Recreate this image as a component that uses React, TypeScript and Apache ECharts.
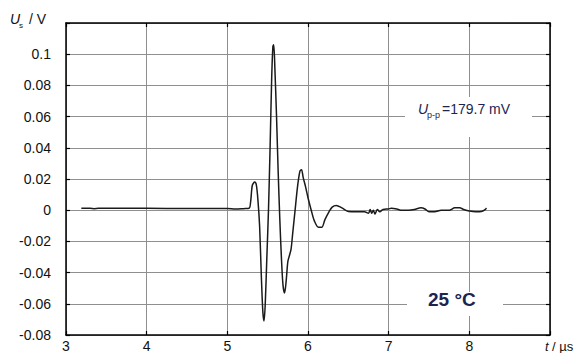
import React, { useEffect, useRef } from "react";
import * as echarts from "echarts";

const timeUs: number[] = [
  3.19, 3.25, 3.3, 3.35, 3.4, 3.6, 4.0, 4.5, 5.0, 5.1, 5.2, 5.27, 5.29, 5.31, 5.34, 5.36, 5.38, 5.4,
  5.42, 5.44, 5.455, 5.47, 5.49, 5.51, 5.53, 5.55, 5.565, 5.575, 5.59, 5.61, 5.63, 5.65, 5.67, 5.69,
  5.71, 5.73, 5.75, 5.77, 5.79, 5.81, 5.84, 5.87, 5.9, 5.92, 5.94, 5.97, 6.0, 6.04, 6.08, 6.13, 6.17,
  6.21, 6.26, 6.3, 6.35, 6.42, 6.5, 6.6, 6.7, 6.75, 6.77, 6.79, 6.81, 6.83, 6.86, 6.89, 6.93, 7.0,
  7.03, 7.1, 7.15, 7.25, 7.32, 7.4, 7.45, 7.5, 7.57, 7.65, 7.75, 7.82, 7.88, 7.93, 8.0, 8.08, 8.15,
  8.2, 8.21,
];
const voltageV: number[] = [
  0.0013, 0.0012, 0.0012, 0.001, 0.0012, 0.0012, 0.0012, 0.0011, 0.0011, 0.0008, 0.001, 0.0012, 0.006,
  0.016, 0.018, 0.016, 0.006, -0.01, -0.04, -0.065, -0.071, -0.06, -0.03, 0.0, 0.04, 0.085, 0.105,
  0.106, 0.09, 0.06, 0.025, -0.005, -0.03, -0.048, -0.053, -0.045, -0.033, -0.029, -0.025, -0.015,
  0.0, 0.015, 0.025, 0.026, 0.021, 0.015, 0.008, 0.0, -0.007, -0.011, -0.011, -0.006, -0.001, 0.002,
  0.003, 0.0015, -0.0008, -0.001, -0.001, -0.002, 0.0005, -0.002, 0.0, -0.0025, 0.0005, -0.001,
  0.0005, 0.0008, 0.0012, 0.0008, 0.0, 0.0, 0.0005, 0.0015, 0.0008, -0.001, -0.001, 0.0, 0.0, 0.0015,
  0.0015, 0.0005, -0.0005, -0.001, -0.0008, 0.0005, 0.0015,
];
const xTicks = { min: 3, max: 9, step: 1 };
const yTicks = { min: -0.08, max: 0.12, step: 0.02 };

const FONT = "'Liberation Sans', Arial, sans-serif";
const NAVY = "#1b2650";

export default function App() {
  const ref = useRef<HTMLDivElement>(null);
  useEffect(() => {
    if (!ref.current) return;
    const chart = echarts.init(ref.current, undefined, { renderer: "svg" });
    const data = timeUs.map((t, i) => [t, voltageV[i]]);
    const gridLine = { show: true, lineStyle: { color: "#8f8f8f", width: 1 } };
    const tickStyle = { show: true, inside: true, length: 4, lineStyle: { color: "#000", width: 1.2 } };
    const axisLine = { show: true, onZero: false, lineStyle: { color: "#000", width: 1.5 } };
    chart.setOption({
      animation: false,
      backgroundColor: "#fff",
      grid: { left: 66, right: 30, top: 23, bottom: 16 },
      xAxis: [
        {
          type: "value",
          min: xTicks.min,
          max: xTicks.max,
          interval: xTicks.step,
          axisLine,
          axisTick: tickStyle,
          splitLine: gridLine,
          axisLabel: {
            color: "#111",
            fontFamily: FONT,
            fontSize: 14,
            margin: 4,
            formatter: (v: number) => (v >= xTicks.max ? "" : String(v)),
          },
        },
        {
          type: "value",
          position: "top",
          min: xTicks.min,
          max: xTicks.max,
          interval: xTicks.step,
          axisLine,
          axisTick: tickStyle,
          splitLine: { show: false },
          axisLabel: { show: false },
        },
      ],
      yAxis: [
        {
          type: "value",
          min: yTicks.min,
          max: yTicks.max,
          interval: yTicks.step,
          axisLine,
          axisTick: tickStyle,
          splitLine: gridLine,
          axisLabel: {
            color: "#111",
            fontFamily: FONT,
            fontSize: 14,
            margin: 15,
            formatter: (v: number) =>
              Math.abs(v - yTicks.max) < 1e-9 ? "" : String(+v.toFixed(2)),
          },
        },
        {
          type: "value",
          position: "right",
          min: yTicks.min,
          max: yTicks.max,
          interval: yTicks.step,
          axisLine,
          axisTick: tickStyle,
          splitLine: { show: false },
          axisLabel: { show: false },
        },
      ],
      series: [
        {
          type: "line",
          data,
          showSymbol: false,
          smooth: 0.3,
          lineStyle: { color: "#1a1a1a", width: 1.5 },
          z: 5,
        },
      ],
      graphic: [
        { type: "rect", shape: { x: 405, y: 97, width: 127, height: 40 }, style: { fill: "#fff" }, z: 3 },
        { type: "rect", shape: { x: 407, y: 292, width: 96, height: 24 }, style: { fill: "#fff" }, z: 3 },
        { type: "text", x: 418, y: 102, z: 4, style: { text: "U", fill: NAVY, font: `italic 14px ${FONT}` } },
        { type: "text", x: 427, y: 110, z: 4, style: { text: "p-p", fill: NAVY, font: `9px ${FONT}` } },
        { type: "text", x: 442, y: 102, z: 4, style: { text: "=179.7 mV", fill: NAVY, font: `14px ${FONT}` } },
        { type: "text", x: 428, y: 290, z: 4, style: { text: "25 °C", fill: NAVY, font: `bold 19px ${FONT}` } },
        { type: "text", x: 10, y: 12, z: 4, style: { text: "U", fill: "#111", font: `italic 14px ${FONT}` } },
        { type: "text", x: 19, y: 21, z: 4, style: { text: "s", fill: "#111", font: `8px ${FONT}` } },
        { type: "text", x: 29, y: 12, z: 4, style: { text: "/ V", fill: "#111", font: `14px ${FONT}` } },
        { type: "text", x: 545, y: 340, z: 4, style: { text: "t", fill: "#111", font: `italic 13px ${FONT}` } },
        { type: "text", x: 552, y: 340, z: 4, style: { text: "/ µs", fill: "#111", font: `13px ${FONT}` } },
      ],
    });
    return () => chart.dispose();
  }, []);
  return (
    <div
      ref={ref}
      style={{ position: "fixed", left: 0, top: 0, width: 580, height: 353, background: "#fff" }}
    />
  );
}
